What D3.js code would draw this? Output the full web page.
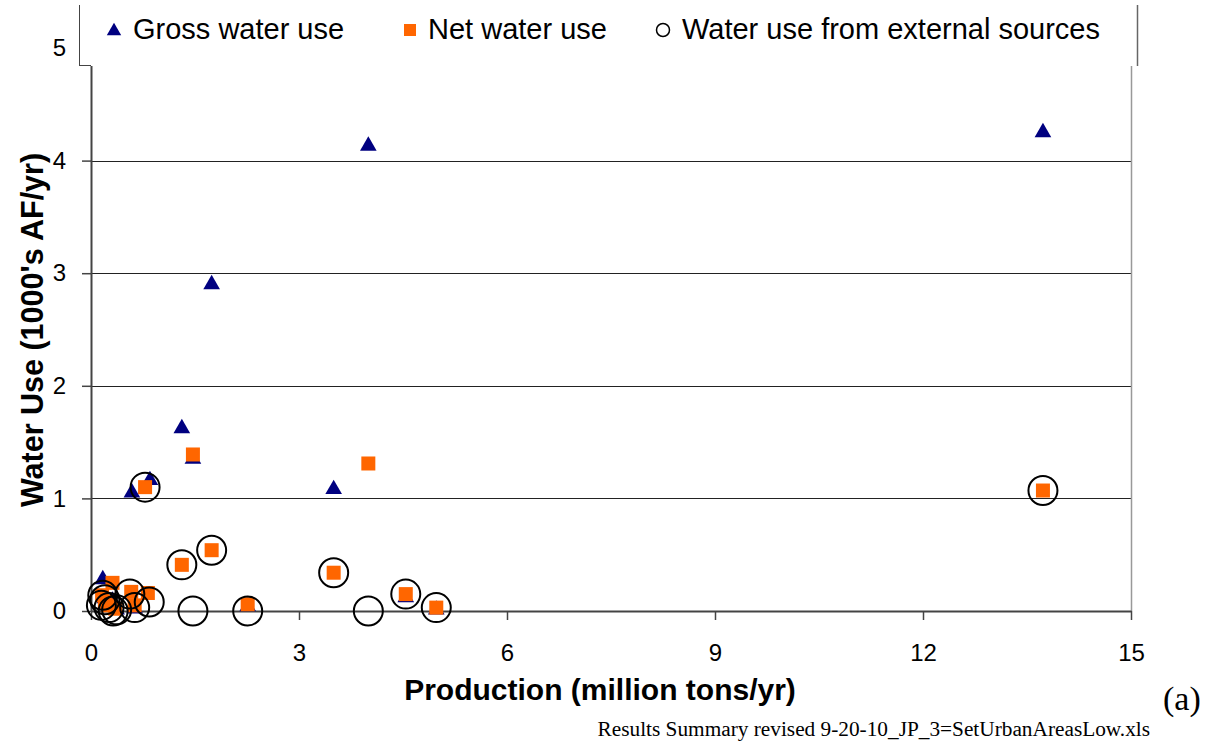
<!DOCTYPE html>
<html>
<head>
<meta charset="utf-8">
<script src="https://cdn.jsdelivr.net/npm/d3@7"></script>
<style>
  html, body { margin: 0; padding: 0; background: #fff; }
  svg { display: block; font-family: "Liberation Sans", Arial, sans-serif; }
  .serif { font-family: "Liberation Serif", "Times New Roman", serif; }
</style>
</head>
<body>
<svg id="chart" width="1212" height="745"></svg>
<script>
// ---- Data ----
const seriesNames = ["Gross water use", "Net water use", "Water use from external sources"];
const xTicks = [0, 3, 6, 9, 12, 15];
const yTicks = [0, 1, 2, 3, 4, 5];

// production (million tons/yr) and water use (1000's AF/yr)
const grossX = [13.73, 4.00, 1.74, 1.31, 0.85, 1.47, 3.50, 0.59, 0.17, 2.26, 4.54, 4.98, 0.31, 0.37, 0.63, 0.20];
const grossY = [4.26, 4.14, 2.91, 1.63, 1.17, 1.36, 1.09, 1.06, 0.29, 0.05, 0.13, 0.02, 0.10, 0.02, 0.03, 0.12];

const netX = [13.73, 4.00, 1.47, 0.78, 1.74, 1.31, 3.50, 4.54, 4.98, 2.26, 0.82, 0.58, 0.31, 0.16, 0.25, 0.35, 0.63, 0.20];
const netY = [1.07, 1.31, 1.39, 1.10, 0.54, 0.41, 0.34, 0.15, 0.03, 0.06, 0.16, 0.17, 0.25, 0.14, 0.05, 0.02, 0.05, 0.08];

const extX = [13.73, 0.78, 1.74, 1.31, 3.50, 4.54, 4.98, 2.26, 4.00, 1.47, 0.17, 0.56, 0.84, 0.15, 0.26, 0.32, 0.37, 0.63, 0.20];
const extY = [1.07, 1.10, 0.54, 0.41, 0.34, 0.15, 0.03, 0.00, 0.00, 0.00, 0.14, 0.15, 0.08, 0.05, 0.03, 0.00, 0.01, 0.03, 0.10];

const xTitle = "Production (million tons/yr)";
const yTitle = "Water Use (1000's AF/yr)";
const panelLabel = "(a)";
const sourceNote = "Results Summary revised 9-20-10_JP_3=SetUrbanAreasLow.xls";

// ---- Layout ----
const svg = d3.select("#chart");
const pL = 91, pR = 1131, pT = 48, pB = 611;

const x = d3.scaleLinear().domain([0, 15]).range([pL, pR]);
const y = d3.scaleLinear().domain([0, 5]).range([pB, pT]);

// gridlines
svg.append("g").selectAll("line").data(yTicks.filter(d => d > 0)).join("line")
  .attr("x1", pL).attr("x2", pR)
  .attr("y1", d => Math.round(y(d)) + 0.5).attr("y2", d => Math.round(y(d)) + 0.5)
  .attr("stroke", "#222").attr("stroke-width", 1);

// right border
svg.append("line").attr("x1", pR + 0.5).attr("x2", pR + 0.5)
  .attr("y1", pT).attr("y2", pB).attr("stroke", "#999").attr("stroke-width", 1.5);

// axes
const xAxis = d3.axisBottom(x).tickValues(xTicks).tickFormat(d3.format("d"))
  .tickSize(9).tickPadding(24).tickSizeOuter(0);
const gx = svg.append("g").attr("transform", `translate(0,${pB})`).call(xAxis);
gx.select(".domain").attr("stroke", "#444").attr("stroke-width", 2);
gx.selectAll(".tick line").attr("stroke", "#444").attr("stroke-width", 1.5);
gx.selectAll(".tick text").attr("font-size", 24).attr("fill", "#000")
  .style("font-family", "Liberation Sans, Arial, sans-serif");

const yAxis = d3.axisLeft(y).tickValues(yTicks).tickFormat(d3.format("d"))
  .tickSize(9).tickPadding(16).tickSizeOuter(0);
const gy = svg.append("g").attr("transform", `translate(${pL},0)`).call(yAxis);
gy.select(".domain").attr("stroke", "#444").attr("stroke-width", 2);
gy.selectAll(".tick line").attr("stroke", "#444").attr("stroke-width", 1.5);
gy.selectAll(".tick text").attr("font-size", 24).attr("fill", "#000")
  .style("font-family", "Liberation Sans, Arial, sans-serif");

// markers
const triPath = d3.symbol().type(d3.symbolTriangle).size(120)();
const plot = svg.append("g");
plot.append("g").selectAll("path").data(d3.range(grossX.length)).join("path")
  .attr("d", triPath)
  .attr("transform", i => `translate(${x(grossX[i])},${y(grossY[i]) + 1})`)
  .attr("fill", "#000080");

plot.append("g").selectAll("rect").data(d3.range(netX.length)).join("rect")
  .attr("x", i => x(netX[i]) - 7).attr("y", i => y(netY[i]) - 7)
  .attr("width", 14).attr("height", 14)
  .attr("fill", "#FF6600");

plot.append("g").selectAll("circle").data(d3.range(extX.length)).join("circle")
  .attr("cx", i => x(extX[i])).attr("cy", i => y(extY[i]))
  .attr("r", 14.5)
  .attr("fill", "none").attr("stroke", "#000").attr("stroke-width", 2);

// legend box
const lg = svg.append("g");
lg.append("rect").attr("x", 79).attr("y", 5).attr("width", 1058).attr("height", 61)
  .attr("fill", "#fff").attr("stroke", "none");
lg.append("line").attr("x1", 79.5).attr("x2", 79.5).attr("y1", 5).attr("y2", 66)
  .attr("stroke", "#444").attr("stroke-width", 1);
lg.append("line").attr("x1", 79).attr("x2", pL).attr("y1", 65.5).attr("y2", 65.5)
  .attr("stroke", "#444").attr("stroke-width", 1);
lg.append("line").attr("x1", 1137.5).attr("x2", 1137.5).attr("y1", 5).attr("y2", 66)
  .attr("stroke", "#666").attr("stroke-width", 1.5);

const legendMarkX = [114, 410, 663];
const legendTextX = [133, 428, 682];
const legendY = 29;
lg.append("path").attr("d", d3.symbol().type(d3.symbolTriangle).size(90)())
  .attr("transform", `translate(${legendMarkX[0]},${legendY + 2})`).attr("fill", "#000080");
lg.append("rect").attr("x", legendMarkX[1] - 6).attr("y", legendY - 5).attr("width", 12).attr("height", 12)
  .attr("fill", "#FF6600");
lg.append("circle").attr("cx", legendMarkX[2]).attr("cy", legendY + 1).attr("r", 6.5)
  .attr("fill", "none").attr("stroke", "#000").attr("stroke-width", 1.5);
lg.selectAll("text.leg").data(seriesNames).join("text").attr("class", "leg")
  .attr("x", (d, i) => legendTextX[i]).attr("y", legendY + 10)
  .attr("font-size", 29).attr("fill", "#000").text(d => d);

// titles
svg.append("text").attr("x", 600).attr("y", 700).attr("text-anchor", "middle")
  .attr("font-size", 30).attr("font-weight", "bold").text(xTitle);
svg.append("text").attr("transform", `translate(43,330) rotate(-90)`).attr("text-anchor", "middle")
  .attr("font-size", 30.5).attr("font-weight", "bold").text(yTitle);
svg.append("text").attr("class", "serif").attr("x", 1163).attr("y", 710)
  .attr("font-size", 34).text(panelLabel);
svg.append("text").attr("class", "serif").attr("x", 1150).attr("y", 736).attr("text-anchor", "end")
  .attr("font-size", 21.3).text(sourceNote);
</script>
</body>
</html>
